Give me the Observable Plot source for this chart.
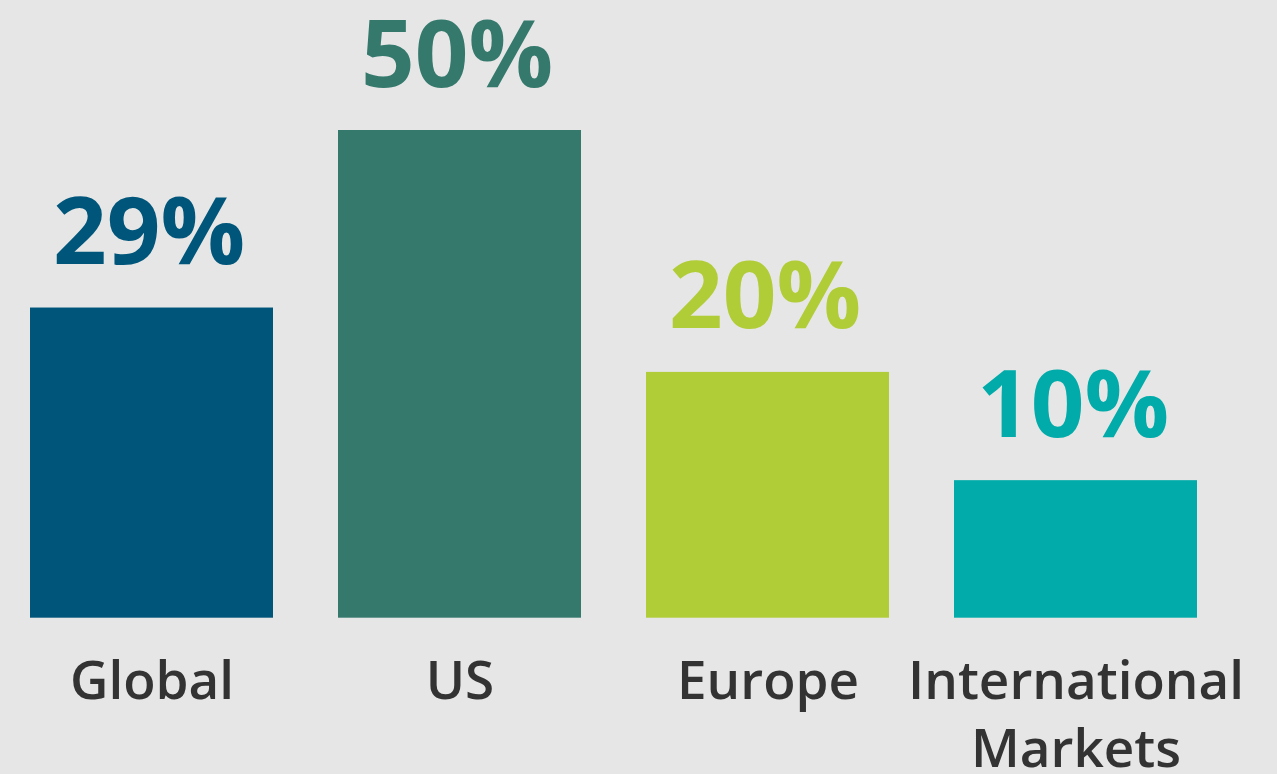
<!DOCTYPE html>
<html>
<head>
<meta charset="utf-8">
<script src="https://cdn.jsdelivr.net/npm/d3@7"></script>
<script src="https://cdn.jsdelivr.net/npm/@observablehq/plot@0.6"></script>
<style>
  html, body { margin: 0; padding: 0; background: #e6e6e6; }
  #chart { width: 1277px; height: 774px; overflow: hidden; }
</style>
</head>
<body>
<div id="chart"></div>
<script>
// Categories and the percentages printed above each bar
const categories = ["Global", "US", "Europe", "International Markets"];
const labels = ["Global", "US", "Europe", "International\nMarkets"];
const percents = [29, 50, 20, 10];
// Visual bar lengths (bars are not drawn strictly to scale)
const barLengths = [31.8, 50, 25.2, 14.1];
const colors = ["#00567a", "#35796d", "#b0cc37", "#00aba9"];

const data = categories.map((c, i) => ({
  category: c,
  label: labels[i],
  percent: percents[i],
  length: barLengths[i],
  color: colors[i]
}));

const chart = Plot.plot({
  width: 1277,
  height: 774,
  margin: 0,
  style: { background: "#e6e6e6", overflow: "visible" },
  x: { type: "band", domain: categories, range: [29.5, 1198.5], paddingInner: 0.211, paddingOuter: 0, axis: null },
  y: { type: "linear", domain: [0, 50], range: [617.7, 130], axis: null },
  marks: [
    Plot.barY(data, { x: "category", y1: 0, y2: "length", fill: "color" }),
    Plot.text(data, {
      x: "category", y: "length", text: d => `${d.percent}%`,
      fill: "color", fontSize: 94, fontWeight: 700,
      fontFamily: "'Open Sans', sans-serif",
      lineAnchor: "bottom", dy: -44, dx: -3
    }),
    Plot.text(data, {
      x: "category", y: 0, text: "label",
      fill: "#333333", fontSize: 53, fontWeight: 600,
      fontFamily: "'Open Sans', sans-serif",
      lineAnchor: "top", lineHeight: 1.28, dy: 33
    })
  ]
});
document.getElementById("chart").appendChild(chart);
</script>
</body>
</html>
